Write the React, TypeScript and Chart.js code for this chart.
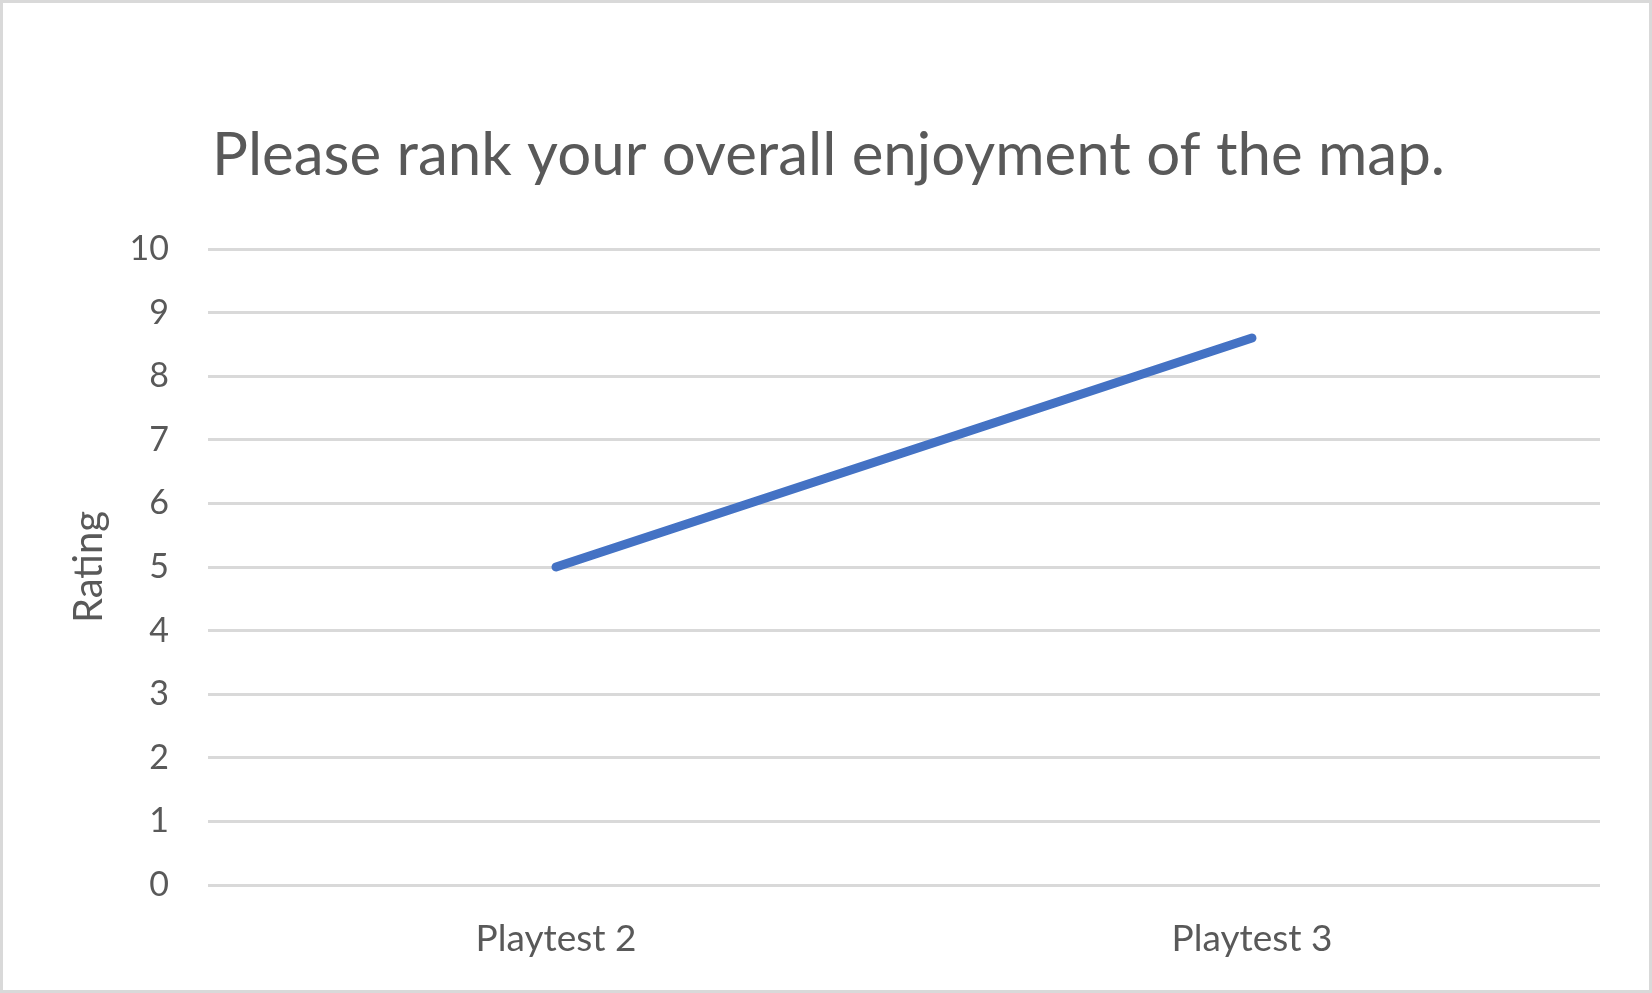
import React, { useEffect, useRef } from "react";
import { Chart, registerables } from "chart.js";

Chart.register(...registerables);

const chartTitle = "Please rank your overall enjoyment of the map.";
const categories = ["Playtest 2", "Playtest 3"];
const ratings = [5, 8.6];
const yAxisTitle = "Rating";
const yMin = 0;
const yMax = 10;
const yStep = 1;

const FONT = "Lato";
const TEXT = "#595959";

export default function App() {
  const ref = useRef<HTMLCanvasElement>(null);

  useEffect(() => {
    document.body.style.margin = "0";
    const chart = new Chart(ref.current as HTMLCanvasElement, {
      type: "line",
      data: {
        labels: categories,
        datasets: [
          {
            label: yAxisTitle,
            data: ratings,
            borderColor: "#4472C4",
            backgroundColor: "#4472C4",
            borderWidth: 9,
            borderCapStyle: "round",
            borderJoinStyle: "round",
            pointRadius: 0,
            pointHoverRadius: 0,
            fill: false,
            tension: 0,
          },
        ],
      },
      options: {
        responsive: false,
        animation: false,
        layout: { padding: { left: 57, right: 52, top: 0, bottom: 0 } },
        plugins: {
          legend: { display: false },
          tooltip: { enabled: false },
          title: {
            display: true,
            text: chartTitle,
            color: TEXT,
            font: { family: FONT, size: 60, weight: "normal", lineHeight: 1.2 },
            padding: { top: 120, bottom: 57 },
          },
        },
        scales: {
          x: {
            offset: true,
            grid: { display: false },
            border: { display: false },
            ticks: {
              color: TEXT,
              font: { family: FONT, size: 37, lineHeight: 1.2 },
              padding: 24,
            },
            afterFit: (s: any) => {
              s.height = 108;
            },
          },
          y: {
            min: yMin,
            max: yMax,
            ticks: {
              stepSize: yStep,
              color: TEXT,
              font: { family: FONT, size: 34, lineHeight: 1.2 },
              padding: 39,
            },
            grid: { color: "#d9d9d9", lineWidth: 3, drawTicks: false },
            border: { display: false },
            title: {
              display: true,
              text: yAxisTitle,
              color: TEXT,
              font: { family: FONT, size: 40, lineHeight: 1.2 },
              padding: { top: 8, bottom: 0 },
            },
            afterFit: (s: any) => {
              s.width = 208 - 57;
            },
          },
        },
      },
    });
    return () => chart.destroy();
  }, []);

  return (
    <div style={{ position: "relative", width: 1652, height: 993, background: "#fff" }}>
      <canvas ref={ref} width={1652} height={993} style={{ display: "block" }} />
      <div
        style={{
          position: "absolute",
          inset: 0,
          border: "3px solid #d9d9d9",
          boxSizing: "border-box",
          pointerEvents: "none",
        }}
      />
    </div>
  );
}
